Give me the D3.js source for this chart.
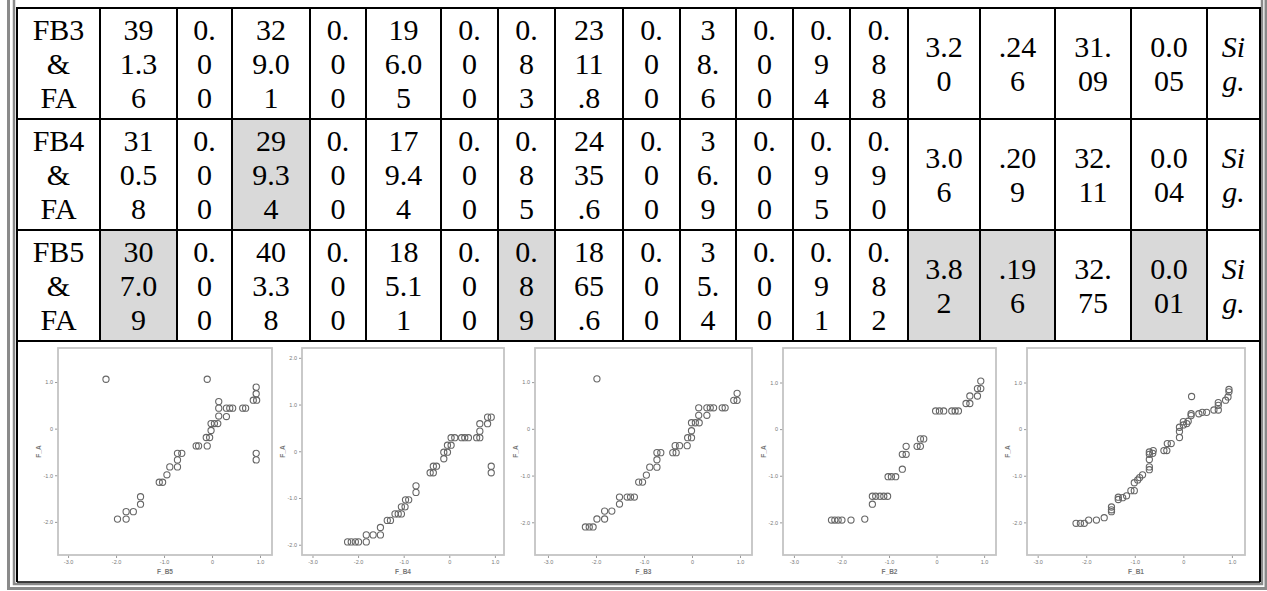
<!DOCTYPE html>
<html>
<head>
<meta charset="utf-8">
<script src="https://cdn.jsdelivr.net/npm/d3@7"></script>
<style>
  body { margin: 0; background: #fff; }
  svg { display: block; }
  .cell text { font-family: 'Liberation Serif', 'Times New Roman', serif; fill: #000; }
  .plot text { font-family: 'Liberation Sans', Arial, sans-serif; fill: #777; }
</style>
</head>
<body>
<svg class="chart" width="1267" height="591"></svg>
<script>
// ----- table data -----
var rowLabels = ['FB3 & FA', 'FB4 & FA', 'FB5 & FA'];
var valuesFB3 = ['391.36', '0.00', '329.01', '0.00', '196.05', '0.00', '0.83', '2311.8', '0.00', '38.6', '0.00', '0.94', '0.88', '3.20', '.246', '31.09', '0.005', 'Sig.'];
var valuesFB4 = ['310.58', '0.00', '299.34', '0.00', '179.44', '0.00', '0.85', '2435.6', '0.00', '36.9', '0.00', '0.95', '0.90', '3.06', '.209', '32.11', '0.004', 'Sig.'];
var valuesFB5 = ['307.09', '0.00', '403.38', '0.00', '185.11', '0.00', '0.89', '1865.6', '0.00', '35.4', '0.00', '0.91', '0.82', '3.82', '.196', '32.75', '0.001', 'Sig.'];
// highlighted cells (column index, label column = 0)
var highlightFB3 = [];
var highlightFB4 = [3];
var highlightFB5 = [1, 7, 14, 15, 17];

// ----- scatter data (F_Bx, F_A) -----
var pointsFB5 = [
    [-2.21, 1.06], [-0.10, 1.06],
    [0.92, 0.89], [0.92, 0.75], [0.86, 0.61], [0.93, 0.61],
    [0.92, -0.53], [0.92, -0.67],
    [0.64, 0.44], [0.70, 0.44], [0.30, 0.44], [0.37, 0.44], [0.43, 0.44],
    [0.30, 0.26], [0.14, 0.58], [0.14, 0.44], [0.14, 0.27],
    [-0.02, 0.11], [0.05, 0.11], [0.12, 0.11], [-0.02, -0.04],
    [-0.12, -0.19], [-0.05, -0.19], [-0.10, -0.37],
    [-0.33, -0.37], [-0.28, -0.37],
    [-0.72, -0.53], [-0.63, -0.53], [-0.72, -0.67],
    [-0.88, -0.82], [-0.72, -0.82], [-0.94, -0.99],
    [-1.10, -1.15], [-1.03, -1.15],
    [-1.49, -1.46], [-1.49, -1.62],
    [-1.79, -1.78], [-1.64, -1.78],
    [-1.97, -1.94], [-1.79, -1.94]
];
var pointsFB4 = [
    [-2.23, -1.94], [-2.15, -1.94], [-2.06, -1.94], [-1.99, -1.94], [-1.82, -1.94],
    [-1.82, -1.79], [-1.67, -1.79], [-1.51, -1.79], [-1.51, -1.63],
    [-1.36, -1.48], [-1.29, -1.48],
    [-1.19, -1.34], [-1.12, -1.34], [-1.05, -1.34],
    [-1.05, -1.19], [-0.97, -1.19], [-0.96, -1.04], [-0.89, -1.04],
    [-0.73, -0.88], [-0.73, -0.74],
    [-0.42, -0.46], [-0.35, -0.46], [-0.35, -0.32], [-0.28, -0.32],
    [-0.12, -0.16], [-0.12, -0.02], [-0.04, -0.02],
    [-0.04, 0.13], [0.04, 0.13], [0.04, 0.29], [0.12, 0.29],
    [0.27, 0.29], [0.34, 0.29], [0.42, 0.29], [0.60, 0.29], [0.67, 0.29],
    [0.67, 0.43], [0.67, 0.59], [0.84, 0.59], [0.84, 0.73], [0.92, 0.73],
    [0.92, -0.32], [0.92, -0.46]
];
var pointsFB3 = [
    [-1.98, 1.07],
    [0.94, 0.76], [0.87, 0.61], [0.94, 0.61],
    [0.63, 0.45], [0.69, 0.45], [0.31, 0.45], [0.38, 0.45], [0.45, 0.45], [0.14, 0.45],
    [0.14, 0.29], [0.31, 0.29],
    [-0.01, 0.13], [0.07, 0.13], [0.15, 0.13], [-0.01, -0.04],
    [-0.09, -0.19], [-0.01, -0.19], [-0.10, -0.36],
    [-0.35, -0.36], [-0.26, -0.36], [-0.40, -0.51], [-0.33, -0.51],
    [-0.73, -0.51], [-0.65, -0.51], [-0.73, -0.66],
    [-0.88, -0.82], [-0.73, -0.82], [-0.95, -0.99],
    [-1.11, -1.14], [-1.03, -1.14],
    [-1.51, -1.46], [-1.35, -1.46], [-1.28, -1.46], [-1.20, -1.46], [-1.51, -1.61],
    [-1.82, -1.76], [-1.67, -1.76], [-1.98, -1.93], [-1.82, -1.93],
    [-2.22, -2.10], [-2.14, -2.10], [-2.06, -2.10]
];
var pointsFB2 = [
    [-2.21, -1.95], [-2.14, -1.95], [-2.07, -1.95], [-1.99, -1.95],
    [-1.80, -1.95], [-1.51, -1.93], [-1.35, -1.61],
    [-1.35, -1.44], [-1.28, -1.44], [-1.19, -1.44], [-1.11, -1.44], [-1.03, -1.44],
    [-1.02, -1.02], [-0.95, -1.02], [-0.86, -1.02], [-0.72, -0.86],
    [-0.72, -0.54], [-0.64, -0.54], [-0.64, -0.37],
    [-0.41, -0.37], [-0.34, -0.37], [-0.34, -0.21], [-0.27, -0.21],
    [-0.02, 0.39], [0.06, 0.39], [0.15, 0.39], [0.32, 0.39], [0.39, 0.39], [0.46, 0.39],
    [0.62, 0.55], [0.70, 0.55], [0.70, 0.71], [0.86, 0.71], [0.86, 0.87], [0.93, 0.87], [0.93, 1.03]
];
var pointsFB1 = [
    [-2.21, -2.02], [-2.12, -2.02], [-2.04, -2.02],
    [-1.95, -1.95], [-1.79, -1.95], [-1.63, -1.90],
    [-1.48, -1.77], [-1.48, -1.73], [-1.48, -1.67],
    [-1.34, -1.51], [-1.34, -1.46], [-1.25, -1.47], [-1.17, -1.43],
    [-1.08, -1.32], [-1.01, -1.32],
    [-1.01, -1.15], [-0.94, -1.09], [-0.90, -1.04], [-0.84, -0.98],
    [-0.70, -0.87], [-0.70, -0.81], [-0.70, -0.65], [-0.70, -0.54], [-0.70, -0.49],
    [-0.63, -0.52], [-0.62, -0.46],
    [-0.40, -0.46], [-0.34, -0.46], [-0.33, -0.31], [-0.25, -0.31],
    [-0.08, -0.18], [-0.08, -0.05], [-0.08, 0.04],
    [0.00, 0.09], [0.07, 0.12], [0.10, 0.17], [0.00, 0.16],
    [0.16, 0.29], [0.16, 0.33], [0.17, 0.70],
    [0.32, 0.33], [0.39, 0.36], [0.48, 0.36],
    [0.63, 0.41], [0.72, 0.41], [0.72, 0.51], [0.72, 0.57],
    [0.87, 0.62], [0.92, 0.69], [0.94, 0.80], [0.94, 0.85]
];
var xLabels = ['F_B5', 'F_B4', 'F_B3', 'F_B2', 'F_B1'];
var yLabel = 'F_A';
var xTicks = [-3, -2, -1, 0, 1];
var yTicksA = [-2, -1, 0, 1];
var yTicksB = [-2, -1, 0, 1, 2];

(function() {

    var p = {};
        p.width = 1267;
        p.height = 591;
        p.cols = [17, 100, 177, 232, 310, 366, 441, 498, 555, 623, 680, 736, 793, 850, 908, 980, 1055, 1131, 1207, 1260];
        p.wrapEm = [2.0, 1.3, 0.8, 1.3, 0.8, 1.3, 0.8, 0.8, 1.1, 0.8, 0.8, 0.8, 0.8, 0.8, 1.3, 1.3, 1.3, 1.3, 1.0];
        p.tableTop = 8;
        p.rowHeight = 111;
        p.tableBottom = 582;
        p.fontSize = 30;
        p.lineHeight = 34;
        p.firstBaseline = 32;
        p.shade = '#d9d9d9';
        p.plot = {
            top: 348,
            height: 207,
            left: [58, 302, 535, 783, 1027],
            width: [214, 202, 217, 213, 218],
            xDomain: [[-3.21, 1.25], [-3.23, 1.2], [-3.27, 1.25], [-3.23, 1.25], [-3.22, 1.27]],
            yDomain: [[-2.71, 1.73], [-2.22, 2.21], [-2.7, 1.73], [-2.7, 1.74], [-2.7, 1.74]],
            frame: '#c4c4c4',
            point: '#666',
            r: 3.1
        };

    var rows = [
        {label: rowLabels[0], values: valuesFB3, hi: highlightFB3},
        {label: rowLabels[1], values: valuesFB4, hi: highlightFB4},
        {label: rowLabels[2], values: valuesFB5, hi: highlightFB5}
    ];
    var plots = [
        {pts: pointsFB5, yTicks: yTicksA},
        {pts: pointsFB4, yTicks: yTicksB},
        {pts: pointsFB3, yTicks: yTicksA},
        {pts: pointsFB2, yTicks: yTicksA},
        {pts: pointsFB1, yTicks: yTicksA}
    ];

    var ctx = document.createElement('canvas').getContext('2d');
    var measure = function(s, italic) {
        ctx.font = (italic ? 'italic ' : '') + p.fontSize + 'px "Liberation Serif"';
        return ctx.measureText(s).width;
    };

    // word wrap, breaking inside a word when it does not fit
    var wrap = function(text, maxW, italic) {
        var lines = [], cur = '';
        text.split(' ').forEach(function(word) {
            var tryLine = cur ? cur + ' ' + word : word;
            if (measure(tryLine, italic) <= maxW) { cur = tryLine; return; }
            if (cur) { lines.push(cur); cur = ''; }
            for (var i = 0; i < word.length; i++) {
                var t = cur + word[i];
                if (cur && measure(t, italic) > maxW) { lines.push(cur); cur = word[i]; }
                else cur = t;
            }
        });
        if (cur) lines.push(cur);
        return lines;
    };

    var svg = d3.select('.chart');

    //-----  Outer frame  -----//
    svg.append('path')
        .attr('d', 'M8.5,0 V588.5 H1266 V0')
        .attr('fill', 'none')
        .attr('stroke', '#8a8a8a')
        .attr('stroke-width', 3)
    ;
    svg.append('path')
        .attr('d', 'M14,0 V584 H1262 V0')
        .attr('fill', 'none')
        .attr('stroke', '#8a8a8a')
        .attr('stroke-width', 2.5)
    ;

    //-----  Table  -----//
    var table = svg.append('g').attr('class', 'cell');
    table.append('rect')
        .attr('x', p.cols[0]).attr('y', p.tableTop)
        .attr('width', p.cols[p.cols.length - 1] - p.cols[0])
        .attr('height', p.tableBottom - p.tableTop)
        .attr('fill', '#fff')
    ;
    rows.forEach(function(row, r) {
        var top = p.tableTop + r * p.rowHeight;
        var cells = [row.label].concat(row.values);
        cells.forEach(function(txt, c) {
            var x0 = p.cols[c], x1 = p.cols[c + 1];
            if (row.hi.indexOf(c) >= 0) {
                table.append('rect')
                    .attr('x', x0).attr('y', top)
                    .attr('width', x1 - x0).attr('height', p.rowHeight)
                    .attr('fill', p.shade)
                ;
            }
            var italic = txt === 'Sig.';
            var lines = wrap(txt, p.wrapEm[c] * p.fontSize + 0.5, italic);
            var y0 = top + p.firstBaseline + (3 - lines.length) * p.lineHeight / 2;
            var t = table.append('text')
                .attr('text-anchor', 'middle')
                .attr('font-size', p.fontSize)
                .attr('font-style', italic ? 'italic' : 'normal')
            ;
            lines.forEach(function(line, i) {
                t.append('tspan')
                    .attr('x', (x0 + x1) / 2)
                    .attr('y', y0 + i * p.lineHeight)
                    .text(line)
                ;
            });
        });
    });

    var gridBottom = p.tableTop + 3 * p.rowHeight;
    // horizontal rules
    d3.range(4).forEach(function(i) {
        var y = p.tableTop + i * p.rowHeight;
        table.append('line')
            .attr('x1', p.cols[0]).attr('x2', p.cols[p.cols.length - 1])
            .attr('y1', y).attr('y2', y)
            .attr('stroke', '#000').attr('stroke-width', 2)
        ;
    });
    table.append('line')
        .attr('x1', p.cols[0]).attr('x2', p.cols[p.cols.length - 1])
        .attr('y1', p.tableBottom).attr('y2', p.tableBottom)
        .attr('stroke', '#000').attr('stroke-width', 1.5)
    ;
    // vertical rules
    p.cols.forEach(function(x, i) {
        var outer = i === 0 || i === p.cols.length - 1;
        table.append('line')
            .attr('x1', x).attr('x2', x)
            .attr('y1', p.tableTop - 1)
            .attr('y2', outer ? p.tableBottom : gridBottom)
            .attr('stroke', '#000').attr('stroke-width', 2)
        ;
    });

    //-----  Scatter plots  -----//
    var fmt = function(d) { return d === 0 ? '0' : d.toFixed(1); };
    plots.forEach(function(pl, k) {
        var w = p.plot.width[k], h = p.plot.height;
        var g = svg.append('g')
            .attr('class', 'plot')
            .attr('transform', 'translate(' + p.plot.left[k] + ',' + p.plot.top + ')')
        ;
        var x = d3.scaleLinear().domain(p.plot.xDomain[k]).range([0, w]);
        var y = d3.scaleLinear().domain(p.plot.yDomain[k]).range([h, 0]);

        g.append('g')
            .attr('transform', 'translate(0,' + h + ')')
            .call(d3.axisBottom(x).tickValues(xTicks).tickFormat(fmt).tickSize(3).tickPadding(2))
        ;
        g.append('g')
            .call(d3.axisLeft(y).tickValues(pl.yTicks).tickFormat(fmt).tickSize(3).tickPadding(2))
        ;
        g.selectAll('.domain').remove();
        g.selectAll('.tick line').attr('stroke', '#999');
        g.selectAll('.tick text').attr('font-size', 5.5).attr('fill', '#777');

        g.append('rect')
            .attr('width', w).attr('height', h)
            .attr('fill', 'none')
            .attr('stroke', p.plot.frame)
            .attr('stroke-width', 1.8)
        ;
        g.selectAll('circle')
            .data(pl.pts)
            .enter().append('circle')
                .attr('cx', function(d) { return x(d[0]); })
                .attr('cy', function(d) { return y(d[1]); })
                .attr('r', p.plot.r)
                .attr('fill', 'none')
                .attr('stroke', p.plot.point)
                .attr('stroke-width', 1.1)
        ;
        g.append('text')
            .text(xLabels[k])
            .attr('x', w / 2)
            .attr('y', h + 19)
            .attr('text-anchor', 'middle')
            .attr('font-size', 6.5)
            .attr('font-weight', 'bold')
        ;
        g.append('text')
            .text(yLabel)
            .attr('transform', 'translate(-17,' + (h / 2) + ') rotate(-90)')
            .attr('text-anchor', 'middle')
            .attr('font-size', 6.5)
            .attr('font-weight', 'bold')
        ;
    });
})();
</script>
</body>
</html>
